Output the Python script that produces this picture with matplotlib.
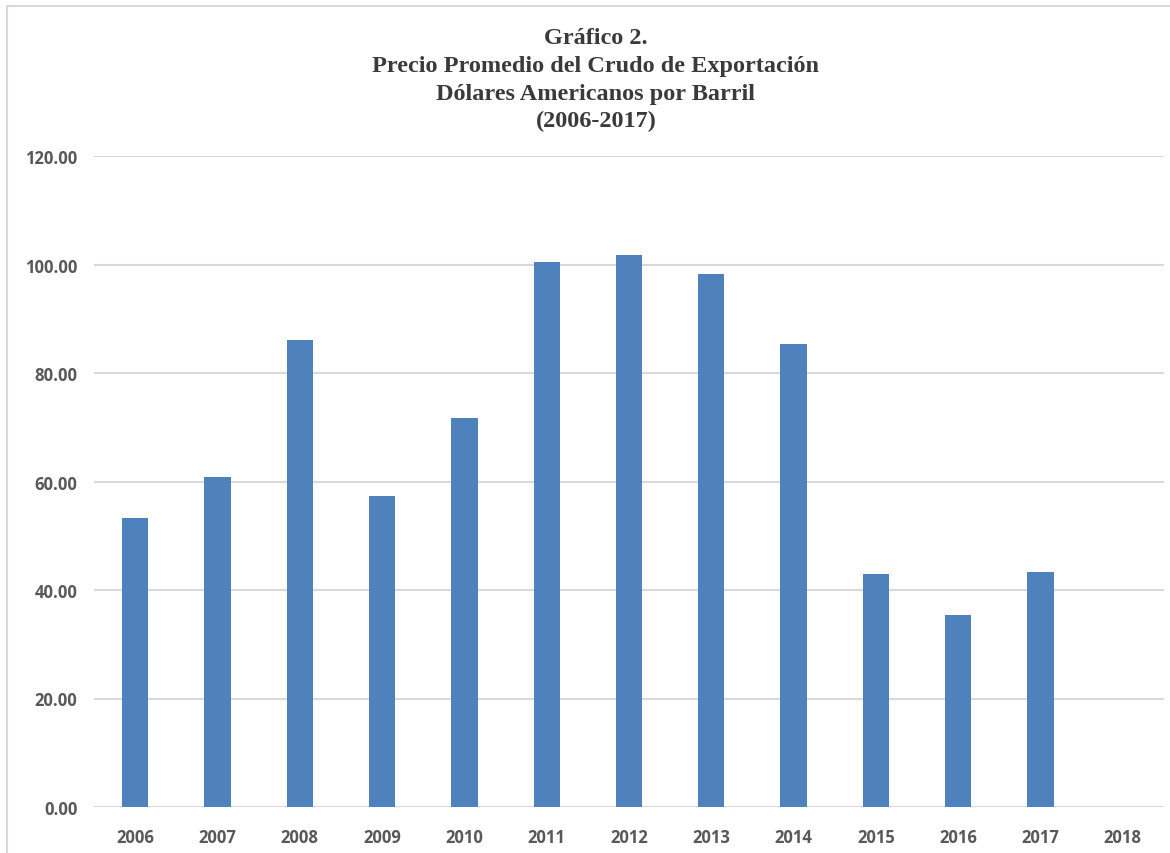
import matplotlib
matplotlib.use("Agg")
import matplotlib.pyplot as plt
from matplotlib.patches import Rectangle
import numpy as np

# data
years = ["2006", "2007", "2008", "2009", "2010", "2011", "2012",
         "2013", "2014", "2015", "2016", "2017", "2018"]
precios = [53.2, 60.9, 86.0, 57.4, 71.7, 100.4, 101.8,
           98.3, 85.3, 43.0, 35.4, 43.4, np.nan]
y_ticks = [0, 20, 40, 60, 80, 100, 120]
title_lines = ["Gráfico 2.",
               "Precio Promedio del Crudo de Exportación",
               "Dólares Americanos por Barril",
               "(2006-2017)"]

W, H = 1170, 854
fig = plt.figure(figsize=(W / 100, H / 100), dpi=100)
ax = fig.add_axes([94 / W, 1 - 808 / H, (1164 - 94) / W, (808 - 157) / H])

x = np.arange(len(years))
ax.bar(x, precios, width=0.32, color="#4F81BD", zorder=3)

ax.set_xlim(-0.5, len(years) - 0.5)
ax.set_ylim(0, 120)
ax.set_yticks(y_ticks)
ax.set_yticklabels([f"{v:.2f}" for v in y_ticks])
ax.set_xticks(x)
ax.set_xticklabels(years)

ax.grid(axis="y", color="#d9d9d9", linewidth=1.5, zorder=0)
ax.set_axisbelow(True)
for s in ax.spines.values():
    s.set_visible(False)
ax.tick_params(axis="both", length=0, labelcolor="#595959")
ax.tick_params(axis="y", pad=12)
ax.tick_params(axis="x", pad=15)
for lbl in ax.get_xticklabels() + ax.get_yticklabels():
    lbl.set_fontfamily("Open Sans")
    lbl.set_fontweight("bold")
    lbl.set_fontsize(12)

# title, one line at a time (baselines in pixels from top)
baselines = [44, 72, 100, 127]
for line, yb in zip(title_lines, baselines):
    fig.text(596 / W, 1 - yb / H, line, ha="center", va="baseline",
             fontfamily="Liberation Serif", fontweight="bold",
             fontsize=17.5, color="#3a3a3a")

# chart frame (only left and top edges are inside the image)
fig.add_artist(Rectangle((7 / W, -0.1), 1.5, 1.1 - 7 / H,
                         transform=fig.transFigure, fill=False,
                         edgecolor="#d9d9d9", linewidth=1.5))

fig.savefig("out.png", dpi=100, facecolor="white")
